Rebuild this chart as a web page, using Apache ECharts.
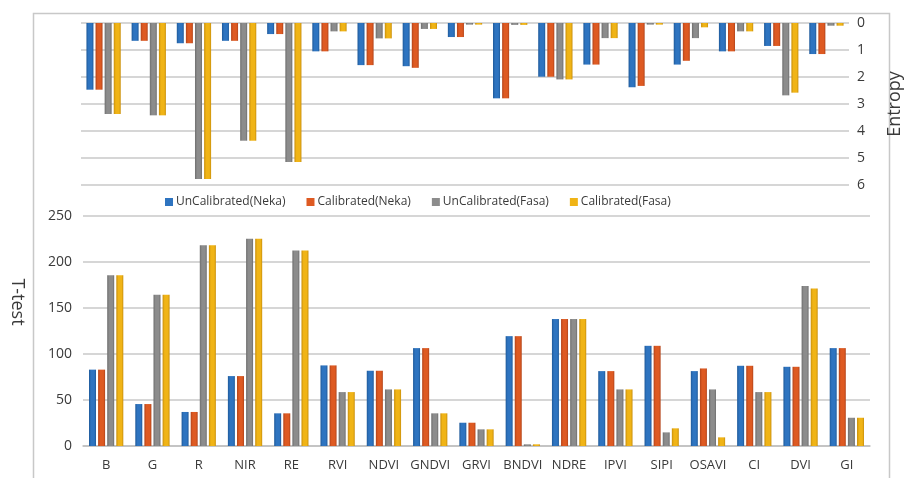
<!DOCTYPE html>
<html><head><meta charset="utf-8">
<script src="https://cdn.jsdelivr.net/npm/echarts@6/dist/echarts.min.js"></script>
<style>html,body{margin:0;padding:0;background:#fff}#c{width:912px;height:478px}</style>
</head><body><div id="c"></div>
<script>
const categories = ['B','G','R','NIR','RE','RVI','NDVI','GNDVI','GRVI','BNDVI','NDRE','IPVI','SIPI','OSAVI','CI','DVI','GI'];
const seriesNames = ['UnCalibrated(Neka)','Calibrated(Neka)','UnCalibrated(Fasa)','Calibrated(Fasa)'];
// Entropy (top panel)
const entUncalNeka = [2.47,0.66,0.75,0.66,0.41,1.05,1.56,1.60,0.52,2.79,1.99,1.54,2.38,1.54,1.05,0.85,1.15];
const entCalNeka   = [2.47,0.66,0.75,0.66,0.41,1.05,1.56,1.66,0.52,2.79,1.99,1.54,2.33,1.40,1.05,0.85,1.15];
const entUncalFasa = [3.37,3.42,5.78,4.36,5.15,0.31,0.57,0.22,0.06,0.07,2.09,0.56,0.06,0.56,0.31,2.68,0.10];
const entCalFasa   = [3.37,3.42,5.78,4.36,5.15,0.31,0.57,0.22,0.06,0.07,2.09,0.56,0.06,0.16,0.31,2.58,0.10];
// T-test (bottom panel)
const tUncalNeka = [83,45.6,37,76,35.5,87.6,81.8,106.4,25.3,119.4,138,81.4,108.9,81.4,87.2,86.1,106.4];
const tCalNeka   = [83,45.6,37,76,35.5,87.6,81.8,106.4,25.3,119.4,138,81.4,108.9,84.3,87.2,86.1,106.4];
const tUncalFasa = [185.6,164.3,218.2,225.4,212.4,58.6,61.5,35.5,18.1,1.8,138,61.5,14.8,61.5,58.6,174,30.7];
const tCalFasa   = [185.6,164.3,218.2,225.4,212.4,58.6,61.5,35.5,18.1,1.8,138,61.5,19.2,9.4,58.6,171.2,30.7];
const entTicks = [0,1,2,3,4,5,6];
const tTicks = [0,50,100,150,200,250];

const colors = ['#2E74C0','#DE5A22','#8C8C8C','#F0B416'];
const dark = ['#1F5A9A','#B2441A','#6E6E6E','#C98F0C'];
function grad(i){
  return new echarts.graphic.LinearGradient(0,0,1,0,[
    {offset:0,color:dark[i]},{offset:0.3,color:colors[i]},{offset:0.75,color:colors[i]},{offset:1,color:dark[i]}]);
}
const chart = echarts.init(document.getElementById('c'));
const font = '"Open Sans", sans-serif';
const textCol = '#3a3a3a';
const entData = [entUncalNeka,entCalNeka,entUncalFasa,entCalFasa];
const tData = [tUncalNeka,tCalNeka,tUncalFasa,tCalFasa];
const series = [];
for (let i=0;i<4;i++){
  series.push({type:'bar',name:seriesNames[i],xAxisIndex:0,yAxisIndex:0,data:entData[i],barWidth:7,barGap:'30%',
    itemStyle:{color:grad(i)}});
}
for (let i=0;i<4;i++){
  series.push({type:'bar',name:seriesNames[i],xAxisIndex:1,yAxisIndex:1,data:tData[i],barWidth:7,barGap:'30%',
    itemStyle:{color:grad(i)}});
}
chart.setOption({
  animation:false,
  color:colors,
  textStyle:{fontFamily:font},
  graphic:[
    {type:'rect',shape:{x:33.5,y:13.5,width:856,height:500},style:{fill:'none',stroke:'#c8c8c8',lineWidth:1.5},silent:true},
    {type:'text',x:17,y:302,rotation:-Math.PI/2,silent:true,
      style:{text:'T-test',fontSize:18,fill:textCol,fontFamily:font,align:'center',verticalAlign:'middle'}}
  ],
  legend:{top:191,left:160,itemWidth:8,itemHeight:8,itemGap:21,icon:'rect',
    data:seriesNames.map((n,i)=>({name:n,itemStyle:{color:colors[i]}})),
    textStyle:{fontSize:12,color:textCol,fontFamily:font,padding:[0,0,0,-2]}},
  grid:[
    {left:81,width:787,top:23,height:162},
    {left:83,width:787,top:216,height:230}
  ],
  xAxis:[
    {type:'category',gridIndex:0,data:categories,position:'top',axisLine:{show:false},axisTick:{show:false},axisLabel:{show:false}},
    {type:'category',gridIndex:1,data:categories,axisLine:{lineStyle:{color:'#bfbfbf',width:1.5}},axisTick:{show:false},
      axisLabel:{color:textCol,fontSize:13,margin:13,interval:0}}
  ],
  yAxis:[
    {type:'value',gridIndex:0,inverse:true,min:entTicks[0],max:entTicks[entTicks.length-1],interval:1,position:'right',
      axisLine:{show:false},axisTick:{show:false},
      axisLabel:{color:textCol,fontSize:14,margin:8},
      splitLine:{lineStyle:{color:'#c8c8c8',width:1.5}},
      name:'Entropy',nameLocation:'middle',nameGap:37,nameRotate:90,
      nameTextStyle:{fontSize:18,color:textCol}},
    {type:'value',gridIndex:1,min:tTicks[0],max:tTicks[tTicks.length-1],interval:50,
      axisLine:{show:false},axisTick:{show:false},
      axisLabel:{color:textCol,fontSize:14,margin:11},
      splitLine:{lineStyle:{color:'#c8c8c8',width:1.5}}}
  ],
  series:series
});
</script></body></html>
